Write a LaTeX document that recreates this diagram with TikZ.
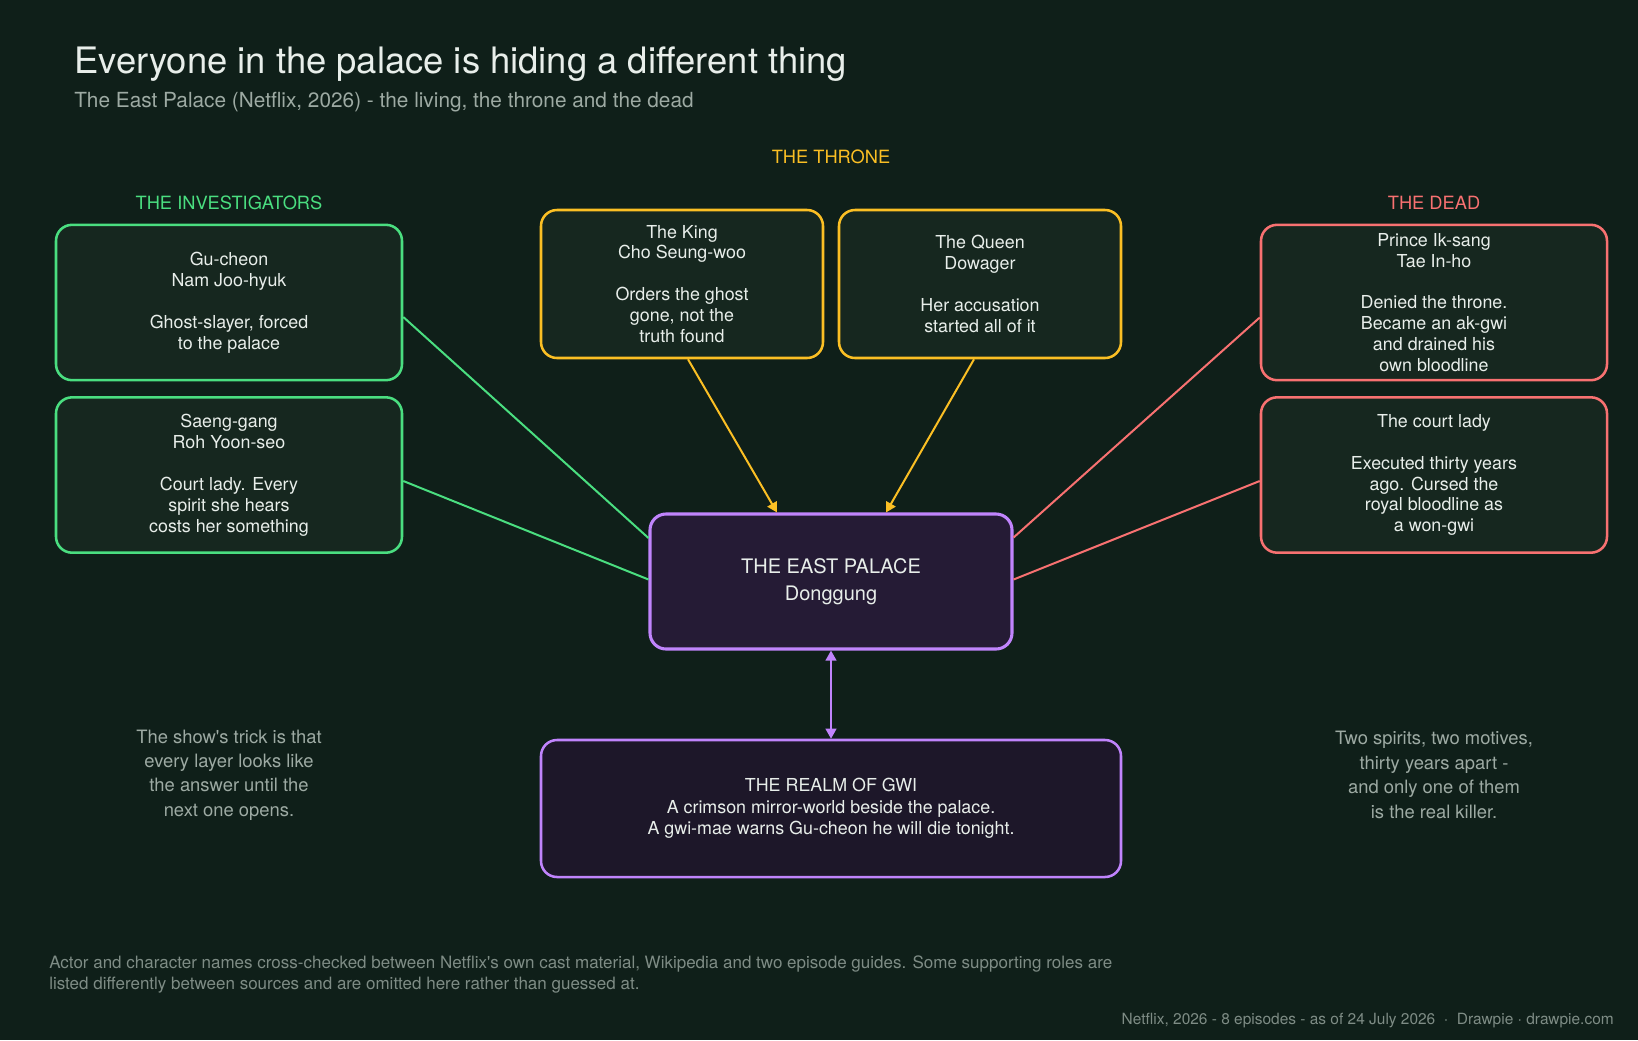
\documentclass[tikz,border=0pt]{standalone}
\usepackage{fontspec}
\setmainfont{TeX Gyre Heros}
\usepackage{tikz}
\usetikzlibrary{arrows.meta,positioning,calc}
\definecolor{palacebg}{HTML}{0F1F19}
\definecolor{cardfill}{HTML}{16271F}
\definecolor{seekgreen}{HTML}{4ADE80}
\definecolor{thronegold}{HTML}{FBBF24}
\definecolor{deadred}{HTML}{F87171}
\definecolor{gwipurple}{HTML}{C084FC}
\definecolor{palacefill}{HTML}{251B35}
\definecolor{realmfill}{HTML}{1D1729}
\definecolor{inktext}{HTML}{E8EEEA}
\definecolor{mutetext}{HTML}{9DAAA3}
\definecolor{faintext}{HTML}{7E8C85}
\newcommand{\cardfont}{\fontsize{13.4}{15.7}\selectfont}
\newcommand{\blankline}{\\[15.7pt]}
\newcommand{\castcard}[4]{
  \node[#1] (#2) at (#3) {#4};
}
\tikzset{
  card/.style={draw=#1, fill=cardfill, line width=1.9pt, rounded corners=12pt,
    align=center, text=inktext, font=\cardfont, inner sep=0pt},
  sidecard/.style={card=#1, minimum width=259.5pt, minimum height=116.5pt},
  thronecard/.style={card=#1, minimum width=211.5pt, minimum height=111pt},
  grouplabel/.style={text=#1, font=\fontsize{13.7}{16}\selectfont, inner sep=0pt},
  note/.style={text=mutetext, align=center, font=\fontsize{13.8}{18.3}\selectfont, inner sep=0pt},
  link/.style={draw=#1, line width=1.5pt},
  tip/.style={-{Triangle[length=7.5pt,width=8pt]}}
}

\begin{document}
\begin{tikzpicture}[x=0.75pt, y=-0.75pt, node distance=10pt]
  \fill[palacebg] (0,0) rectangle (1638,1040);
  \useasboundingbox (0,0) rectangle (1638,1040);

  \node[anchor=base west, inner sep=0pt, text=inktext, font=\fontsize{27.3}{30}\selectfont] (title) at (74,73)
    {Everyone in the palace is hiding a different thing};
  \node[anchor=base west, inner sep=0pt, text=mutetext, font=\fontsize{15.6}{18}\selectfont] (subtitle) at (74,107)
    {The East Palace (Netflix, 2026) - the living, the throne and the dead};

  \castcard{sidecard=seekgreen}{gu}{229,302.5}{Gu-cheon\\Nam Joo-hyuk\blankline Ghost-slayer, forced\\to the palace}
  \castcard{sidecard=seekgreen}{saeng}{229,475}{Saeng-gang\\Roh Yoon-seo\blankline Court lady. Every\\spirit she hears\\costs her something}
  \castcard{thronecard=thronegold}{king}{682,284}{The King\\Cho Seung-woo\blankline Orders the ghost\\gone, not the\\truth found}
  \castcard{thronecard=thronegold}{queen}{980,284}{The Queen\\Dowager\blankline Her accusation\\started all of it}
  \castcard{sidecard=deadred}{prince}{1434,302.5}{Prince Ik-sang\\Tae In-ho\blankline Denied the throne.\\Became an ak-gwi\\and drained his\\own bloodline}
  \castcard{sidecard=deadred}{lady}{1434,475}{The court lady\blankline Executed thirty years\\ago. Cursed the\\royal bloodline as\\a won-gwi}

  \node[grouplabel=seekgreen, above=10pt of gu] (seeklabel) {THE INVESTIGATORS};
  \node[grouplabel=deadred, above=10pt of prince] (deadlabel) {THE DEAD};
  \node[grouplabel=thronegold, anchor=base] (thronelabel) at (831,163) {THE THRONE};

  \node[draw=gwipurple, fill=palacefill, line width=2.3pt, rounded corners=12pt, align=center,
    text=inktext, font=\fontsize{15}{19.9}\selectfont, minimum width=271.5pt, minimum height=101.25pt]
    (palace) at (831,581.5) {THE EAST PALACE\\Donggung};
  \node[draw=gwipurple, fill=realmfill, line width=1.9pt, rounded corners=12pt, align=center,
    text=inktext, font=\fontsize{13.4}{16}\selectfont, minimum width=435pt, minimum height=102.75pt]
    (realm) at (831,808.5) {THE REALM OF GWI\\A crimson mirror-world beside the palace.\\A gwi-mae warns Gu-cheon he will die tonight.};

  \draw[link=seekgreen] ($(gu.east)+(0,14.5)$) -- ($(palace.west)+(0,-43.5)$);
  \draw[link=seekgreen] ($(saeng.east)+(0,6)$) -- ($(palace.west)+(0,-2)$);
  \draw[link=deadred] ($(prince.west)+(0,15)$) -- ($(palace.east)+(0,-44)$);
  \draw[link=deadred] ($(lady.west)+(0,6)$) -- ($(palace.east)+(0,-2)$);
  \draw[link=thronegold, tip] ($(king.south)+(6,0)$) -- ($(palace.north)+(-54,0)$);
  \draw[link=thronegold, tip] ($(queen.south)+(-6,0)$) -- ($(palace.north)+(55,0)$);
  \draw[link=gwipurple, {Triangle[length=7.5pt,width=8pt]}-{Triangle[length=7.5pt,width=8pt]}] (palace.south) -- (realm.north);

  \node[note] (trick) at (229,775) {The show\textquotesingle s trick is that\\every layer looks like\\the answer until the\\next one opens.};
  \node[note] (spirits) at (1434,775) {Two spirits, two motives,\\thirty years apart -\\and only one of them\\is the real killer.};

  \node[anchor=west, align=left, inner sep=0pt, text=faintext, font=\fontsize{12.75}{15.75}\selectfont] (sources) at (49,974)
    {Actor and character names cross-checked between Netflix\textquotesingle s own cast material, Wikipedia and two episode guides. Some supporting roles are\\listed differently between sources and are omitted here rather than guessed at.};
  \node[anchor=base east, inner sep=0pt, text=faintext, font=\fontsize{11.6}{13}\selectfont] (credit) at (1614,1024)
    {Netflix, 2026 - 8 episodes - as of 24 July 2026 \ $\cdot$ \ Drawpie $\cdot$ drawpie.com};
\end{tikzpicture}
\end{document}
